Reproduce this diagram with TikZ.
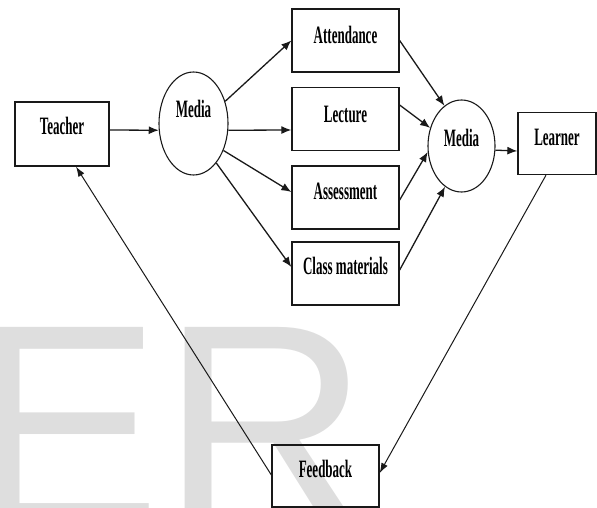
\documentclass[tikz,border=0pt]{standalone}
\usepackage{fontspec}
\usetikzlibrary{arrows.meta,shapes.geometric}
\newfontfamily\lblfont{Liberation Serif}[FakeStretch=0.52]
\newfontfamily\wmfont{Liberation Sans}
\definecolor{wmgray}{RGB}{222,222,222}
\definecolor{ink}{RGB}{25,25,25}
\begin{document}
\begin{tikzpicture}[x=1pt,y=-1pt,
  lbl/.style={font=\lblfont\bfseries\fontsize{25}{25}\selectfont, text=black},
  box/.style={lbl, draw=ink, line width=1.3pt, minimum width=107pt, minimum height=63pt, inner sep=0pt},
  oval/.style={lbl, ellipse, draw=ink, line width=1.1pt, inner sep=0pt},
  arr/.style={draw=ink, line width=1.3pt, -{Latex[length=10pt,width=8pt]}},
  thinarr/.style={draw=ink, line width=1pt, -{Latex[length=10pt,width=7pt]}}]
\useasboundingbox (0,0) rectangle (597,508);
% watermark
\begin{scope}
  \clip (0,0) rectangle (597,508);
  \node[font=\wmfont\fontsize{288}{288}\selectfont, text=wmgray, inner sep=0pt, anchor=base west] (wm) at (-31,525) {ER};
\end{scope}
% nodes
\node[box, minimum width=94pt, minimum height=64pt, text height=13.5pt, text depth=13pt] (teacher) at (62,134) {Teacher};
\node[oval, minimum width=69pt, minimum height=103pt, text height=7.5pt, text depth=19pt] (media1) at (193.5,123.5) {Media};
\node[box, text height=16pt, text depth=10.5pt] (attendance) at (345.5,40.5) {Attendance};
\node[box, text height=16.5pt, text depth=10pt] (lecture) at (345.5,119) {Lecture};
\node[box, text height=15pt, text depth=11.5pt] (assessment) at (345.5,197.5) {Assessment};
\node[box, text height=14.5pt, text depth=12pt] (classmat) at (345.5,273.5) {Class materials};
\node[oval, minimum width=67pt, minimum height=92pt, text height=14pt, text depth=12.5pt] (media2) at (461.5,146) {Media};
\node[box, minimum width=78pt, minimum height=62pt, text height=15pt, text depth=11.5pt] (learner) at (557,143.5) {Learner};
\node[box, minimum width=107pt, minimum height=62pt, text height=14.5pt, text depth=12pt] (feedback) at (325.5,476) {Feedback};
% connectors
\draw[arr] ([yshift=4pt]teacher.east) -- (media1.191);
\draw[arr] (media1.35) -- (attendance.west);
\draw[arr] (media1.-11) -- ([yshift=-11pt]lecture.west);
\draw[arr] (media1.-42) -- ([yshift=5.5pt]assessment.west);
\draw[arr] (media1.-60) -- ([yshift=6.5pt]classmat.west);
\draw[arr] (attendance.east) -- (media2.113);
\draw[arr] ([yshift=14pt]lecture.east) -- (media2.150);
\draw[arr] ([yshift=-2.5pt]assessment.east) -- (media2.190);
\draw[arr] ([yshift=3.5pt]classmat.east) -- (media2.248);
\draw[arr] (media2.-7) -- ([yshift=-7.5pt]learner.west);
\draw[thinarr] ([xshift=-11pt]learner.south) -- ([yshift=3pt]feedback.east);
\draw[thinarr] ([yshift=1pt]feedback.west) -- ([xshift=14pt]teacher.south);
\end{tikzpicture}
\end{document}
